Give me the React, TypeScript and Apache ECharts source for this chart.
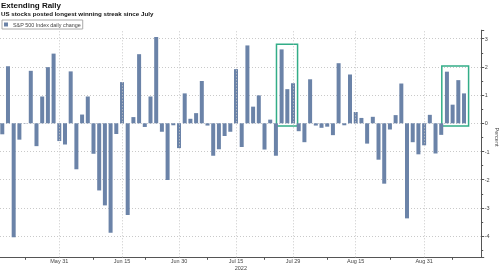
import React, { useEffect, useRef } from "react";
import * as echarts from "echarts";

const dates = [
  "May 16","May 17","May 18","May 19","May 20","May 23","May 24","May 25","May 26","May 27",
  "May 31","Jun 1","Jun 2","Jun 3","Jun 6","Jun 7","Jun 8","Jun 9","Jun 10","Jun 13",
  "Jun 14","Jun 15","Jun 16","Jun 17","Jun 21","Jun 22","Jun 23","Jun 24","Jun 27","Jun 28",
  "Jun 29","Jun 30","Jul 1","Jul 5","Jul 6","Jul 7","Jul 8","Jul 11","Jul 12","Jul 13",
  "Jul 14","Jul 15","Jul 18","Jul 19","Jul 20","Jul 21","Jul 22","Jul 25","Jul 26","Jul 27",
  "Jul 28","Jul 29","Aug 1","Aug 2","Aug 3","Aug 4","Aug 5","Aug 8","Aug 9","Aug 10",
  "Aug 11","Aug 12","Aug 15","Aug 16","Aug 17","Aug 18","Aug 19","Aug 22","Aug 23","Aug 24",
  "Aug 25","Aug 26","Aug 29","Aug 30","Aug 31","Sep 1","Sep 2","Sep 6","Sep 7","Sep 8",
  "Sep 9","Sep 12",
];

const dailyChange = [
  -0.39, 2.02, -4.04, -0.58, 0.01, 1.86, -0.81, 0.95, 1.99, 2.47,
  -0.63, -0.75, 1.84, -1.63, 0.31, 0.95, -1.08, -2.38, -2.91, -3.88,
  -0.38, 1.46, -3.25, 0.22, 2.45, -0.13, 0.95, 3.06, -0.30, -2.01,
  -0.07, -0.88, 1.06, 0.16, 0.36, 1.50, -0.08, -1.15, -0.92, -0.45,
  -0.30, 1.92, -0.84, 2.76, 0.59, 0.99, -0.93, 0.13, -1.15, 2.62,
  1.21, 1.42, -0.28, -0.67, 1.56, -0.08, -0.16, -0.12, -0.42, 2.13,
  -0.07, 1.73, 0.40, 0.19, -0.72, 0.23, -1.29, -2.14, -0.22, 0.29,
  1.41, -3.37, -0.67, -1.10, -0.78, 0.30, -1.07, -0.41, 1.83, 0.66,
  1.53, 1.06,
];

const xLabelDates = ["May 31", "Jun 15", "Jun 30", "Jul 15", "Jul 29", "Aug 15", "Aug 31"];
const xMinorTickDates = ["May 20", "Jun 8", "Jun 22", "Jul 8", "Jul 22", "Aug 8", "Aug 23", "Sep 8"];

// highlighted streaks: [first day, last day, top %, bottom %]
const streakStart = ["Jul 27", "Sep 7"];
const streakEnd = ["Jul 29", "Sep 12"];
const streakTop = [2.8, 2.03];
const streakBottom = [-0.1, -0.1];

const BAR = "#6b83a8";
const BOX = "#33ad88";
const AXIS = "#555";
const GRID = "#c9c9c9";
const FONT = "Liberation Sans";

export default function App() {
  const ref = useRef<HTMLDivElement>(null);
  useEffect(() => {
    if (!ref.current) return;
    const chart = echarts.init(ref.current, undefined, { renderer: "svg" });
    const labelIdx = xLabelDates.map((d) => dates.indexOf(d));
    const minorIdx = xMinorTickDates.map((d) => dates.indexOf(d));
    const boxes = streakStart.map((s, k) => [
      dates.indexOf(s),
      dates.indexOf(streakEnd[k]),
      streakTop[k],
      streakBottom[k],
    ]);
    chart.setOption({
      animation: false,
      textStyle: { fontFamily: FONT },
      title: {
        text: "Extending Rally",
        subtext: "US stocks posted longest winning streak since July",
        left: 0,
        top: 0,
        padding: [1, 1],
        itemGap: 1,
        textStyle: { fontSize: 8, fontWeight: "bold", color: "#111", fontFamily: FONT },
        subtextStyle: { fontSize: 6.2, fontWeight: "bold", color: "#111", fontFamily: FONT },
      },
      graphic: [
        {
          type: "text",
          x: 497,
          y: 137,
          rotation: -Math.PI / 2,
          style: {
            text: "Percent",
            font: `5.5px "${FONT}"`,
            fill: "#444",
            align: "center",
            verticalAlign: "middle",
          },
        },
      ],
      legend: {
        left: 2,
        top: 20,
        padding: [2, 2],
        borderColor: "#aaa",
        borderWidth: 1,
        itemWidth: 4,
        itemHeight: 4,
        icon: "rect",
        textStyle: { fontSize: 5.4, color: "#444", fontFamily: FONT },
        data: ["S&P 500 Index daily change"],
      },
      grid: {
        left: 0,
        right: 18.3,
        top: 30.2,
        bottom: 12.7,
        containLabel: false,
        outerBoundsMode: "none",
      },
      xAxis: {
        type: "value",
        min: -0.4,
        max: 84.1,
        name: "2022",
        nameLocation: "middle",
        nameGap: 7.5,
        nameMoveOverlap: false,
        nameTextStyle: { fontSize: 5.5, color: "#444", fontFamily: FONT },
        axisLine: { show: true, onZero: false, lineStyle: { color: AXIS, width: 1 } },
        axisTick: {
          show: true,
          customValues: minorIdx,
          length: 2.5,
          lineStyle: { color: AXIS },
        },
        axisLabel: {
          customValues: labelIdx,
          formatter: (v: number) => dates[Math.round(v)] ?? "",
          fontSize: 5.5,
          color: "#444",
          margin: 1,
        },
        splitLine: { show: false },
      },
      yAxis: {
        type: "value",
        position: "right",
        min: -4.75,
        max: 3.3,
        splitNumber: 8,
        axisLine: { show: true, onZero: false, lineStyle: { color: AXIS, width: 1 } },
        axisTick: { show: true, length: 2.5, lineStyle: { color: AXIS } },
        minorTick: { show: true, splitNumber: 2, length: 1.5, lineStyle: { color: AXIS } },
        axisLabel: {
          fontSize: 5.5,
          color: "#444",
          margin: 3,
          showMinLabel: false,
          showMaxLabel: false,
        },
        splitLine: {
          show: true,
          showMinLine: false,
          showMaxLine: false,
          lineStyle: { color: GRID, type: [1, 2], width: 1 },
        },
      },
      series: [
        {
          name: "S&P 500 Index daily change",
          type: "bar",
          barWidth: 4,
          itemStyle: { color: BAR },
          data: dailyChange.map((v, i) => [i, v]),
          markLine: {
            silent: true,
            symbol: "none",
            label: { show: false },
            lineStyle: { color: GRID, type: [1, 2], width: 1 },
            data: labelIdx.map((i) => ({ xAxis: i })),
          },
        },
        {
          type: "custom",
          silent: true,
          data: boxes,
          renderItem: (params: any, api: any) => {
            const s = api.value(0);
            const e = api.value(1);
            const top = api.value(2);
            const bot = api.value(3);
            const p1 = api.coord([s - 0.9, top]);
            const p2 = api.coord([e + 0.8, bot]);
            return {
              type: "rect",
              shape: { x: p1[0], y: p1[1], width: p2[0] - p1[0], height: p2[1] - p1[1] },
              style: { fill: "none", stroke: BOX, lineWidth: 1.5 },
            };
          },
        },
      ],
    });
    return () => chart.dispose();
  }, []);
  return (
    <div
      ref={ref}
      style={{ position: "fixed", left: 0, top: 0, width: 500, height: 270 }}
    />
  );
}
